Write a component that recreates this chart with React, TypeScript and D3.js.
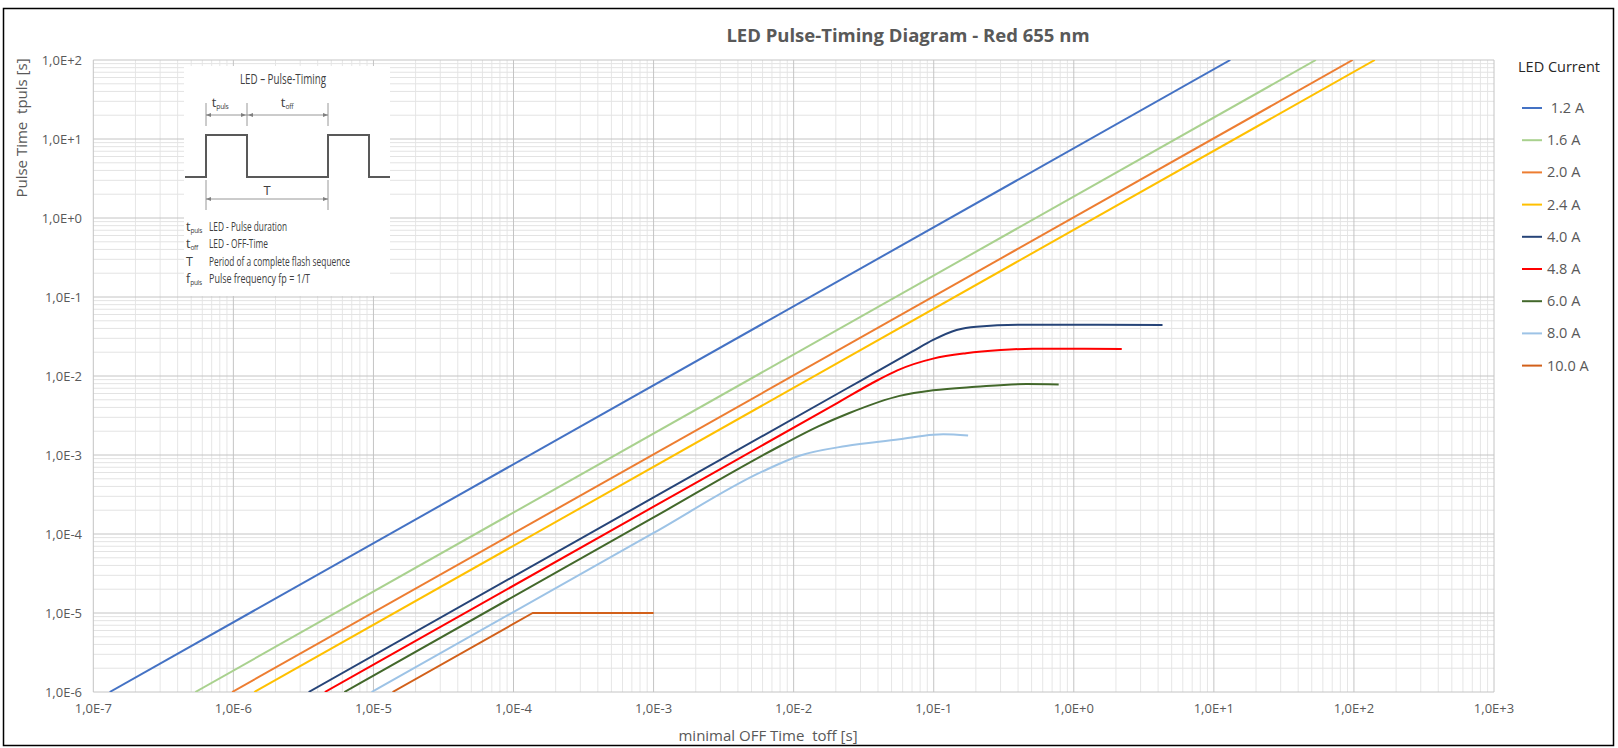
import React from 'react'
import * as d3 from 'd3'

const W = 1618
const H = 748

// axis ticks (decades)
const xTicks = [1e-7, 1e-6, 1e-5, 1e-4, 1e-3, 1e-2, 1e-1, 1e0, 1e1, 1e2, 1e3]
const xTickLabels = ['1,0E-7', '1,0E-6', '1,0E-5', '1,0E-4', '1,0E-3', '1,0E-2', '1,0E-1', '1,0E+0', '1,0E+1', '1,0E+2', '1,0E+3']
const yTicks = [1e-6, 1e-5, 1e-4, 1e-3, 1e-2, 1e-1, 1e0, 1e1, 1e2]
const yTickLabels = ['1,0E-6', '1,0E-5', '1,0E-4', '1,0E-3', '1,0E-2', '1,0E-1', '1,0E+0', '1,0E+1', '1,0E+2']

// series: [toff, tpuls]
const currents = [' 1.2 A', '1.6 A', '2.0 A', '2.4 A', '4.0 A', '4.8 A', '6.0 A', '8.0 A', '10.0 A']
const s12 = [[1.31e-7, 1e-6], [13.1, 100]]
const s16 = [[5.35e-7, 1e-6], [53.5, 100]]
const s20 = [[9.8e-7, 1e-6], [98, 100]]
const s24 = [[1.41e-6, 1e-6], [141, 100]]
const s40 = [[3.45e-6, 1e-6], [1e-3, 2.9e-4], [0.03, 0.0087], [0.07, 0.0203], [0.099, 0.0286], [0.1456, 0.0382], [0.202, 0.0421], [0.433, 0.0446], [1.5, 0.0445], [4.3, 0.0443]]
const s48 = [[4.5e-6, 1e-6], [1e-3, 2.22e-4], [0.02, 0.00444], [0.04, 0.0089], [0.055, 0.0118], [0.099, 0.0166], [0.17, 0.0194], [0.3, 0.0213], [0.51, 0.0222], [1.0, 0.0222], [2.2, 0.022]]
const s60 = [[6.2e-6, 1e-6], [1e-3, 1.62e-4], [0.008, 0.0013], [0.015, 0.0023], [0.025, 0.0034], [0.057, 0.0056], [0.099, 0.0066], [0.2, 0.0073], [0.46, 0.0079], [0.78, 0.0078]]
const s80 = [[9.7e-6, 1e-6], [1e-3, 1.03e-4], [0.006, 0.00062], [0.011, 0.00098], [0.0237, 0.0013], [0.057, 0.00158], [0.099, 0.00181], [0.117, 0.00183], [0.176, 0.00177]]
const s100 = [[1.37e-5, 1e-6], [1.37e-4, 1e-5], [1e-3, 1e-5]]

const seriesData = [s12, s16, s20, s24, s40, s48, s60, s80, s100]
const colors = ['#4472C4', '#A9D18E', '#ED7D31', '#FFC000', '#264478', '#FF0000', '#43682B', '#9DC3E6', '#D2601A']

const gray = '#595959'
const font = '"Open Sans", "DejaVu Sans", sans-serif'
const narrow = '"Open Sans", "DejaVu Sans", sans-serif'

const left = 93.3
const right = 1494
const top = 60
const bottom = 692

const x = d3.scaleLog().domain([1e-7, 1e3]).range([left, right])
const y = d3.scaleLog().domain([1e-6, 1e2]).range([bottom, top])

const minor = (ticks: number[]) => {
  const out: number[] = []
  ticks.slice(0, -1).forEach(d => {
    for (let m = 2; m < 10; m++) out.push(d * m)
  })
  return out
}

const Inset = () => {
  const ink = '#404040'
  const arrow = '#7f7f7f'
  const head = (px: number, py: number, dir: number) => (
    <polygon points={`${px},${py} ${px - dir * 5},${py - 2} ${px - dir * 5},${py + 2}`} fill={arrow} />
  )
  const sub = (main: string, s: string, tx: number, ty: number, anchor = 'start', size = 12.5) => (
    <text x={tx} y={ty} textAnchor={anchor} fontFamily={narrow} fontSize={size} fill={ink}>
      {main}<tspan fontSize={size * 0.52} dy={2} letterSpacing={-0.3}>{s}</tspan>
    </text>
  )
  const txt = (s: string, tx: number, ty: number, len: number, size = 12.5, anchor = 'start') => (
    <text x={tx} y={ty} textAnchor={anchor} fontFamily={narrow} fontSize={size} fill={ink}
      textLength={len} lengthAdjust='spacingAndGlyphs'>{s}</text>
  )
  return (
    <g>
      <rect x={184} y={66} width={206} height={230} fill='#fff' />
      {txt('LED – Pulse-Timing', 283, 84, 86, 14, 'middle')}
      {sub('t', 'puls', 220, 107, 'middle', 13)}
      {sub('t', 'off', 287, 107, 'middle', 13)}
      <line x1={206} x2={206} y1={103} y2={126} stroke={arrow} strokeWidth={0.8} />
      <line x1={247} x2={247} y1={103} y2={126} stroke={arrow} strokeWidth={0.8} />
      <line x1={328} x2={328} y1={103} y2={126} stroke={arrow} strokeWidth={0.8} />
      <line x1={206} x2={247} y1={115} y2={115} stroke={arrow} strokeWidth={0.8} />
      <line x1={247} x2={328} y1={115} y2={115} stroke={arrow} strokeWidth={0.8} />
      {head(206, 115, -1)}{head(246, 115, 1)}{head(248, 115, -1)}{head(328, 115, 1)}
      <path d='M185,177 H206 V135 H247 V177 H328 V135 H369 V177 H390' fill='none' stroke={gray} strokeWidth={2} />
      <line x1={206} x2={206} y1={180} y2={210} stroke={arrow} strokeWidth={0.8} />
      <line x1={328} x2={328} y1={180} y2={210} stroke={arrow} strokeWidth={0.8} />
      <line x1={206} x2={328} y1={199} y2={199} stroke={arrow} strokeWidth={0.8} />
      {head(206, 199, -1)}{head(328, 199, 1)}
      <text x={267} y={195} textAnchor='middle' fontFamily={narrow} fontSize={13} fill={ink}>T</text>
      {sub('t', 'puls', 186, 231)}
      {txt('LED - Pulse duration', 209, 231, 78)}
      {sub('t', 'off', 186, 248)}
      {txt('LED - OFF-Time', 209, 248, 59)}
      <text x={186} y={266} fontFamily={narrow} fontSize={12.5} fill={ink}>T</text>
      {txt('Period of a complete flash sequence', 209, 266, 141)}
      {sub('f', 'puls', 186, 283)}
      {txt('Pulse frequency fp = 1/T', 209, 283, 101)}
    </g>
  )
}

export default function App () {
  const line = d3.line<number[]>()
    .x(d => x(d[0]))
    .y(d => y(d[1]))
    .curve(d3.curveMonotoneX)
  const straight = d3.line<number[]>().x(d => x(d[0])).y(d => y(d[1]))

  return (
    <svg width={W} height={H} style={{ position: 'absolute', left: 0, top: 0, display: 'block', background: '#fff' }}>
      <rect x={3.5} y={8.5} width={1610} height={737} fill='#fff' stroke='#000' strokeWidth={1.5} />
      <defs>
        <clipPath id='plot'><rect x={left} y={top} width={right - left} height={bottom - top} /></clipPath>
      </defs>

      {/* grid */}
      {minor(xTicks).map((v, i) => (
        <line key={'xm' + i} x1={x(v)} x2={x(v)} y1={top} y2={bottom} stroke='#e6e6e6' strokeWidth={1} />
      ))}
      {minor(yTicks).map((v, i) => (
        <line key={'ym' + i} x1={left} x2={right} y1={y(v)} y2={y(v)} stroke='#e3e3e3' strokeWidth={1} />
      ))}
      {xTicks.map((v, i) => (
        <line key={'xM' + i} x1={x(v)} x2={x(v)} y1={top} y2={bottom} stroke='#c4c4c4' strokeWidth={1} />
      ))}
      {yTicks.map((v, i) => (
        <line key={'yM' + i} x1={left} x2={right} y1={y(v)} y2={y(v)} stroke='#c4c4c4' strokeWidth={1} />
      ))}

      <Inset />

      {/* series */}
      <g clipPath='url(#plot)'>
        {seriesData.map((s, i) => (
          <path key={i} d={(i === 8 ? straight(s) : line(s)) || ''} fill='none' stroke={colors[i]} strokeWidth={2} strokeLinejoin='round' />
        ))}
      </g>

      {/* tick labels */}
      {xTicks.map((v, i) => (
        <text key={'xl' + i} x={x(v)} y={713} textAnchor='middle' fontFamily={font} fontSize={13} fill={gray}>{xTickLabels[i]}</text>
      ))}
      {yTicks.map((v, i) => (
        <text key={'yl' + i} x={82} y={y(v)} dy='0.35em' textAnchor='end' fontFamily={font} fontSize={13} fill={gray}>{yTickLabels[i]}</text>
      ))}

      {/* titles */}
      <text x={908} y={42} textAnchor='middle' fontFamily={font} fontWeight='bold' fontSize={18.5} fill={gray}>LED Pulse-Timing Diagram - Red 655 nm</text>
      <text x={768} y={741} textAnchor='middle' fontFamily={font} fontSize={15} fill={gray} style={{ whiteSpace: 'pre' }}>minimal OFF Time  toff [s]</text>
      <text transform='translate(22,128) rotate(-90)' textAnchor='middle' dy='0.35em' fontFamily={font} fontSize={15} fill={gray} style={{ whiteSpace: 'pre' }}>Pulse Time  tpuls [s]</text>

      {/* legend */}
      <text x={1518} y={72} fontFamily={font} fontSize={14.5} fill='#262626'>LED Current</text>
      {currents.map((c, i) => {
        const ly = 108 + i * 32.2
        return (
          <g key={'lg' + i}>
            <line x1={1522} x2={1542} y1={ly} y2={ly} stroke={colors[i]} strokeWidth={2} />
            <text x={1547} y={ly} dy='0.35em' fontFamily={font} fontSize={14.5} fill={gray} style={{ whiteSpace: 'pre' }}>{c}</text>
          </g>
        )
      })}
    </svg>
  )
}
